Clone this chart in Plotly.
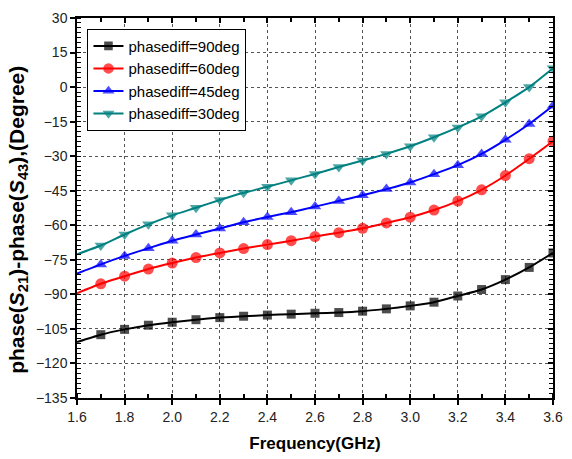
import plotly.graph_objects as go

freq = [1.6, 1.7, 1.8, 1.9, 2.0, 2.1, 2.2, 2.3, 2.4, 2.5, 2.6, 2.7, 2.8, 2.9, 3.0, 3.1, 3.2, 3.3, 3.4, 3.5, 3.6]

phase90 = [-110.7, -107.5, -105.2, -103.4, -102.1, -101.0, -100.1, -99.5, -99.0, -98.6, -98.2, -97.9, -97.3, -96.3, -95.0, -93.4, -90.7, -87.9, -83.6, -78.3, -72.0]
phase60 = [-89.5, -85.4, -82.1, -79.0, -76.4, -74.0, -72.0, -70.1, -68.4, -66.7, -64.9, -63.2, -61.3, -59.0, -56.5, -53.4, -49.5, -44.6, -38.4, -31.1, -23.5]
phase45 = [-81.0, -77.0, -73.3, -70.0, -66.7, -64.0, -61.4, -58.7, -56.4, -54.3, -51.9, -49.5, -47.0, -44.3, -41.4, -37.8, -33.9, -29.0, -22.9, -16.0, -8.1]
phase30 = [-72.6, -68.8, -64.0, -59.6, -55.7, -52.4, -49.0, -45.9, -43.3, -40.5, -37.7, -34.7, -31.9, -29.0, -25.7, -21.8, -17.5, -12.7, -6.6, 0.0, 8.2]

names = ["phasediff=90deg", "phasediff=60deg", "phasediff=45deg", "phasediff=30deg"]
colors = ["#000000", "#FF0000", "#0000FF", "#008080"]
symbols = ["square", "circle", "triangle-up", "triangle-down"]
sizes = [9, 11, 11, 11]

x_title = "Frequency(GHz)"
y_title = "phase(<i>S</i><sub>21</sub>)-phase(<i>S</i><sub>43</sub>),(Degree)"

fig = go.Figure()
for ys, nm, c, s, sz in zip([phase90, phase60, phase45, phase30], names, colors, symbols, sizes):
    msize = [0] + [sz] * (len(freq) - 1)
    fig.add_trace(go.Scatter(
        x=freq, y=ys, name=nm, mode="lines+markers",
        line=dict(color=c, width=2, shape="spline", smoothing=0.6),
        marker=dict(symbol=s, size=msize, color=c, line=dict(width=0)),
    ))

# empty trace to create mirror axes (top/right) with inward ticks
fig.add_trace(go.Scatter(x=[], y=[], xaxis="x2", yaxis="y2", showlegend=False, hoverinfo="skip"))

font_family = "Liberation Sans, Arial, sans-serif"
tickfont = dict(family=font_family, size=14, color="#222222")

fig.update_layout(
    width=572, height=459,
    margin=dict(l=77, r=9, t=18, b=60),
    paper_bgcolor="white", plot_bgcolor="white",
    font=dict(family=font_family, color="black"),
    showlegend=True,
    legend=dict(
        x=0.022, y=0.972, xanchor="left", yanchor="top",
        bgcolor="white", bordercolor="black", borderwidth=1,
        font=dict(family=font_family, size=15, color="black"),
        itemwidth=30, tracegroupgap=0,
    ),
    xaxis=dict(
        range=[1.6, 3.6], dtick=0.2, tick0=1.6, tickformat=".1f",
        showline=True, linecolor="black", linewidth=1.5,
        ticks="outside", ticklen=5, tickwidth=1.5, tickcolor="black",
        minor=dict(dtick=0.1, tick0=1.6, ticks="inside", ticklen=4, tickwidth=1.5, tickcolor="black", showgrid=False),
        showgrid=True, gridcolor="#555555", gridwidth=1, griddash="dot",
        zeroline=False, tickfont=tickfont, ticklabeloverflow="allow",
        title=dict(text="<b>" + x_title + "</b>", font=dict(family=font_family, size=17, color="black"), standoff=14),
    ),
    yaxis=dict(
        range=[-135, 30], dtick=15, tick0=-135,
        showline=True, linecolor="black", linewidth=1.5,
        ticks="outside", ticklen=5, tickwidth=1.5, tickcolor="black",
        minor=dict(dtick=15/7, tick0=-135, ticks="inside", ticklen=4, tickwidth=1.2, tickcolor="black", showgrid=False),
        showgrid=True, gridcolor="#555555", gridwidth=1, griddash="dot",
        zeroline=False, tickfont=tickfont,
    ),
    xaxis2=dict(
        overlaying="x", side="top", range=[1.6, 3.6], dtick=0.2, tick0=1.6,
        showline=True, linecolor="black", linewidth=1.5,
        ticks="inside", ticklen=5, tickwidth=1.5, tickcolor="black",
        minor=dict(dtick=0.1, tick0=1.6, ticks="inside", ticklen=4, tickwidth=1.5, tickcolor="black", showgrid=False),
        showticklabels=False, showgrid=False, zeroline=False,
    ),
    yaxis2=dict(
        overlaying="y", side="right", range=[-135, 30], dtick=15, tick0=-135,
        showline=True, linecolor="black", linewidth=1.5,
        ticks="inside", ticklen=5, tickwidth=1.5, tickcolor="black",
        minor=dict(dtick=15/7, tick0=-135, ticks="inside", ticklen=4, tickwidth=1.2, tickcolor="black", showgrid=False),
        showticklabels=False, showgrid=False, zeroline=False,
    ),
    annotations=[dict(
        text="<b>" + y_title + "</b>", textangle=-90,
        xref="paper", yref="paper", x=-0.123, y=0.47,
        xanchor="center", yanchor="middle", showarrow=False,
        font=dict(family=font_family, size=21, color="black"),
    )],
)

fig.write_html("out.html", config={"displayModeBar": False},
               post_script="document.body.style.margin='0';")
